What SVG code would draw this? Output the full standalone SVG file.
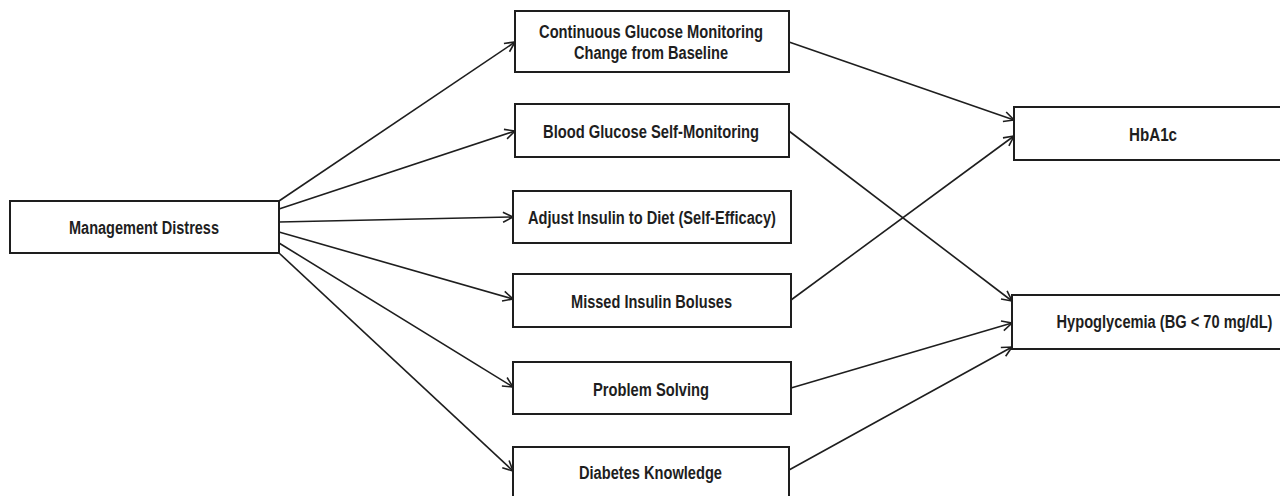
<svg xmlns="http://www.w3.org/2000/svg" width="1280" height="496" viewBox="0 0 1280 496">
<style>
.box{fill:#fff;stroke:#1e1e1e;stroke-width:2}
.lbl{font-family:"Liberation Sans",Arial,sans-serif;font-weight:bold;font-size:17.5px;fill:#1e1e1e;text-anchor:middle}
.edge{stroke:#1e1e1e;stroke-width:1.6;fill:none;marker-end:url(#arr)}
</style>
<defs>
<marker id="arr" markerUnits="userSpaceOnUse" markerWidth="14" markerHeight="14" refX="11" refY="6" orient="auto" viewBox="0 0 14 12">
<path d="M1,1 L11,6 L1,11" fill="none" stroke="#1e1e1e" stroke-width="1.6"/>
</marker>
</defs>
<rect width="1280" height="496" fill="#fff"/>
<g id="connectors">
<line class="edge" x1="279" y1="201" x2="515" y2="42"/>
<line class="edge" x1="279" y1="209" x2="515" y2="131"/>
<line class="edge" x1="279" y1="222" x2="513" y2="217"/>
<line class="edge" x1="279" y1="232" x2="513" y2="299"/>
<line class="edge" x1="279" y1="243" x2="513" y2="387"/>
<line class="edge" x1="279" y1="253" x2="513" y2="471"/>
<line class="edge" x1="789" y1="42" x2="1014" y2="120"/>
<line class="edge" x1="789" y1="131" x2="1012" y2="301"/>
<line class="edge" x1="791" y1="300" x2="1014" y2="136"/>
<line class="edge" x1="791" y1="388" x2="1012" y2="323"/>
<line class="edge" x1="789" y1="470" x2="1012" y2="347"/>
</g>
<g id="management-distress">
<rect class="box" x="10" y="201" width="269" height="52"/>
<text class="lbl" x="144" y="234" textLength="150" lengthAdjust="spacingAndGlyphs">Management Distress</text>
</g>
<g id="cgm">
<rect class="box" x="515" y="11" width="274" height="61"/>
<text class="lbl" x="651" y="37.5" textLength="224" lengthAdjust="spacingAndGlyphs">Continuous Glucose Monitoring</text>
<text class="lbl" x="651" y="59" textLength="154" lengthAdjust="spacingAndGlyphs">Change from Baseline</text>
</g>
<g id="bgsm">
<rect class="box" x="515" y="104" width="274" height="53"/>
<text class="lbl" x="651" y="138" textLength="216" lengthAdjust="spacingAndGlyphs">Blood Glucose Self-Monitoring</text>
</g>
<g id="adjust-insulin">
<rect class="box" x="513" y="191" width="278" height="52"/>
<text class="lbl" x="652" y="224" textLength="248" lengthAdjust="spacingAndGlyphs">Adjust Insulin to Diet (Self-Efficacy)</text>
</g>
<g id="missed-boluses">
<rect class="box" x="513" y="274" width="278" height="53"/>
<text class="lbl" x="651.5" y="308" textLength="161" lengthAdjust="spacingAndGlyphs">Missed Insulin Boluses</text>
</g>
<g id="problem-solving">
<rect class="box" x="513" y="362" width="278" height="52"/>
<text class="lbl" x="651" y="396" textLength="116" lengthAdjust="spacingAndGlyphs">Problem Solving</text>
</g>
<g id="diabetes-knowledge">
<rect class="box" x="513" y="447" width="276" height="52"/>
<text class="lbl" x="650.5" y="479" textLength="143" lengthAdjust="spacingAndGlyphs">Diabetes Knowledge</text>
</g>
<g id="hba1c">
<rect class="box" x="1014" y="107" width="280" height="53"/>
<text class="lbl" x="1153" y="141" textLength="48" lengthAdjust="spacingAndGlyphs">HbA1c</text>
</g>
<g id="hypoglycemia">
<rect class="box" x="1012" y="295" width="282" height="54"/>
<text class="lbl" x="1164.5" y="327.5" textLength="216" lengthAdjust="spacingAndGlyphs">Hypoglycemia (BG &lt; 70 mg/dL)</text>
</g>
</svg>
